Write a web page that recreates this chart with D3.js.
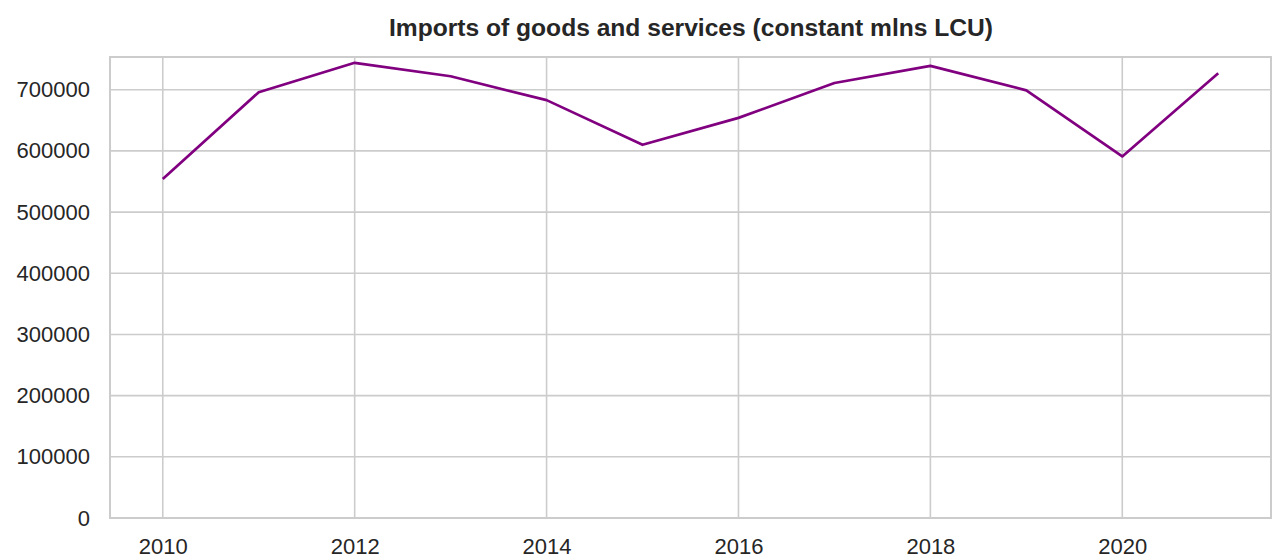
<!DOCTYPE html>
<html>
<head>
<meta charset="utf-8">
<script src="https://cdn.jsdelivr.net/npm/d3@7"></script>
<style>
  html, body { margin: 0; padding: 0; background: #fff; }
  svg { display: block; }
  text { font-family: "Liberation Sans", Arial, sans-serif; }
</style>
</head>
<body>
<svg id="chart" width="1280" height="558"></svg>
<script>
const years = [2010, 2011, 2012, 2013, 2014, 2015, 2016, 2017, 2018, 2019, 2020, 2021];
const imports = [554000, 696000, 744000, 722000, 683000, 610000, 654000, 711000, 739000, 699000, 591000, 727000];
const yTicks = [0, 100000, 200000, 300000, 400000, 500000, 600000, 700000];
const xTicks = [2010, 2012, 2014, 2016, 2018, 2020];
const title = "Imports of goods and services (constant mlns LCU)";

const W = 1280, H = 558;
const m = { left: 110, right: 9, top: 57, bottom: 40 };
const svg = d3.select("#chart");

const minV = d3.min(imports), maxV = d3.max(imports);
const x = d3.scaleLinear()
  .domain([2009.45, 2021.55])
  .range([m.left, W - m.right]);
const y = d3.scaleLinear()
  .domain([0, maxV + 0.05 * (maxV - minV)])
  .range([H - m.bottom, m.top]);

const gridColor = "#cccccc";
const textColor = "#262626";

// grid
const g = svg.append("g");
g.selectAll(".hg").data(yTicks).join("line")
  .attr("x1", m.left).attr("x2", W - m.right)
  .attr("y1", d => y(d)).attr("y2", d => y(d))
  .attr("stroke", gridColor).attr("stroke-width", 1.6);
g.selectAll(".vg").data(xTicks).join("line")
  .attr("y1", m.top).attr("y2", H - m.bottom)
  .attr("x1", d => x(d)).attr("x2", d => x(d))
  .attr("stroke", gridColor).attr("stroke-width", 1.6);

// frame
svg.append("rect")
  .attr("x", m.left).attr("y", m.top)
  .attr("width", W - m.right - m.left).attr("height", H - m.bottom - m.top)
  .attr("fill", "none").attr("stroke", gridColor).attr("stroke-width", 2);

// axes
const yAxis = d3.axisLeft(y).tickValues(yTicks).tickSize(0).tickPadding(20).tickFormat(d3.format("d"));
const yg = svg.append("g").attr("transform", `translate(${m.left},0)`).call(yAxis);
yg.select(".domain").remove();
yg.selectAll("text").attr("fill", textColor).style("font-size", "22px");

const xAxis = d3.axisBottom(x).tickValues(xTicks).tickSize(0).tickPadding(20).tickFormat(d3.format("d"));
const xg = svg.append("g").attr("transform", `translate(0,${H - m.bottom})`).call(xAxis);
xg.select(".domain").remove();
xg.selectAll("text").attr("fill", textColor).style("font-size", "22px");

// line
const line = d3.line().x((d, i) => x(years[i])).y(d => y(d));
svg.append("path")
  .datum(imports)
  .attr("d", line)
  .attr("fill", "none")
  .attr("stroke", "#800080")
  .attr("stroke-width", 2.7)
  .attr("stroke-linejoin", "round");

// title
svg.append("text")
  .attr("x", 691)
  .attr("y", 35.5)
  .attr("text-anchor", "middle")
  .attr("fill", textColor)
  .style("font-size", "24.6px")
  .style("font-weight", "bold")
  .text(title);
</script>
</body>
</html>
